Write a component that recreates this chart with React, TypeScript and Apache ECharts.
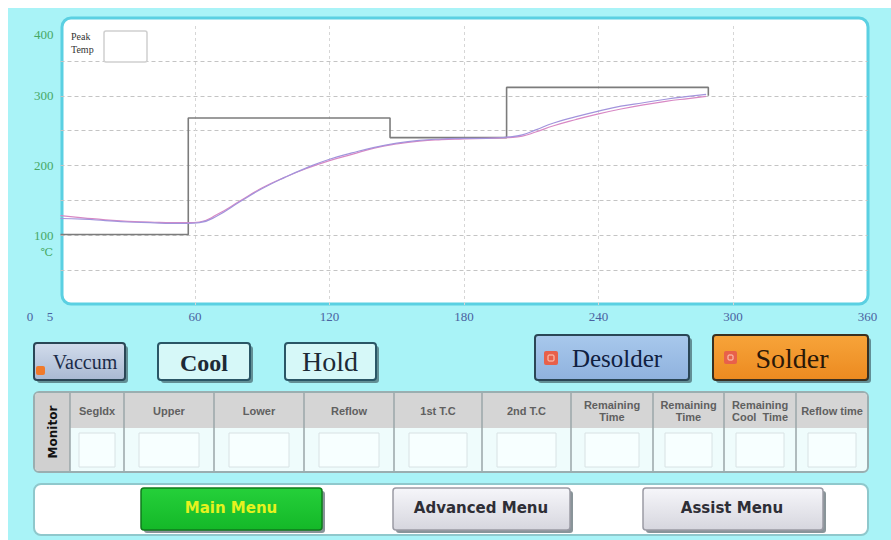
import React, { useEffect, useRef } from "react";
import * as echarts from "echarts";

// ---- data ----
const timeSec = [0, 10, 20, 30, 40, 50, 57, 62, 70, 80, 90, 100, 110, 120, 130, 140, 150, 160, 170, 180, 190, 200, 206, 212, 220, 230, 240, 250, 260, 270, 280, 288];
const tc1Temp = [128, 125, 122, 120, 119, 118, 118, 119, 130, 149, 168, 183, 196, 207, 216, 225, 231, 235, 237, 238, 239, 240, 242, 248, 257, 266, 274, 281, 287, 292, 296, 299];
const tc2Temp = [124, 123, 121, 119, 118, 117, 117, 118, 128, 148, 167, 183, 197, 209, 218, 226, 232, 236, 238, 239, 239, 241, 244, 251, 261, 270, 278, 285, 290, 295, 299, 302];
const setTime = [0, 57, 147, 199, 289];
const setTemp = [101, 268, 240, 312, 300];
const yTickLabels = [100, 200, 300, 400];
const xTickLabels = [60, 120, 180, 240, 300, 360];
const extraXLabels = ["0", "5"];
const headerLabels = ["SegIdx", "Upper", "Lower", "Reflow", "1st T.C", "2nd T.C", "Remaining\nTime", "Remaining\nTime", "Remaining\nCool  Time", "Reflow time"];

const SERIF = "'Liberation Serif', 'DejaVu Serif', serif";
const SANS = "'DejaVu Sans', sans-serif";
const NARROW = "'Liberation Sans Narrow', 'Liberation Sans', sans-serif";

function button(x: number, y: number, w: number, h: number, fill: any, stroke: string, lw = 2, r = 3) {
  return [
    { type: "rect", shape: { x: x + 3, y: y + 3, width: w, height: h, r }, style: { fill: "rgba(40,60,70,0.55)" } },
    { type: "rect", shape: { x, y, width: w, height: h, r }, style: { fill, stroke, lineWidth: lw } },
  ];
}

function grad(top: string, bottom: string) {
  return new echarts.graphic.LinearGradient(0, 0, 0, 1, [
    { offset: 0, color: top },
    { offset: 1, color: bottom },
  ]);
}

export default function App() {
  const ref = useRef<HTMLDivElement>(null);
  useEffect(() => {
    if (!ref.current) return;
    const chart = echarts.init(ref.current, undefined, { renderer: "svg" });

    const els: any[] = [];
    // plot frame
    els.push({ type: "rect", z: -10, shape: { x: 54, y: 10, width: 806, height: 286, r: 9 }, style: { fill: "#ffffff", stroke: "#5bd0e2", lineWidth: 3 } });
    // peak temp
    els.push({ type: "text", z: 5, style: { x: 63, y: 22, text: "Peak\nTemp", font: `10px ${SERIF}`, fill: "#333", lineHeight: 13 } });
    els.push({ type: "rect", z: 5, shape: { x: 96, y: 23, width: 43, height: 31, r: 2 }, style: { fill: "#fff", stroke: "#cfcfcf", lineWidth: 1.5 } });
    // extra axis labels
    els.push({ type: "text", style: { x: 22, y: 308, text: extraXLabels[0], font: `13px ${SERIF}`, fill: "#4a62a0", align: "center", verticalAlign: "middle" } });
    els.push({ type: "text", style: { x: 42, y: 308, text: extraXLabels[1], font: `13px ${SERIF}`, fill: "#4a62a0", align: "center", verticalAlign: "middle" } });
    els.push({ type: "text", style: { x: 39, y: 244, text: "℃", font: `11px ${SERIF}`, fill: "#47a865", align: "center", verticalAlign: "middle" } });

    // mode buttons
    els.push(...button(26, 335, 91, 37, grad("#d2dcec", "#a9b9d2"), "#2a4656"));
    els.push({ type: "rect", shape: { x: 28, y: 358, width: 9, height: 9, r: 2 }, style: { fill: "#f07a2a" } });
    els.push({ type: "text", style: { x: 77, y: 354, text: "Vaccum", font: `20px ${SERIF}`, fill: "#1a2a48", align: "center", verticalAlign: "middle" } });

    els.push(...button(150, 335, 92, 37, "#d6f8f8", "#2a5666"));
    els.push({ type: "text", style: { x: 196, y: 355, text: "Cool", font: `bold 24px ${SERIF}`, fill: "#1c2a36", align: "center", verticalAlign: "middle" } });

    els.push(...button(277, 335, 91, 37, "#d6f8f8", "#2a5666"));
    els.push({ type: "text", style: { x: 322, y: 353, text: "Hold", font: `28px ${SERIF}`, fill: "#1c2a36", align: "center", verticalAlign: "middle" } });

    els.push(...button(527, 327, 154, 45, grad("#a8c8ec", "#8fb2de"), "#2a4656"));
    els.push({ type: "rect", shape: { x: 536, y: 343, width: 14, height: 14, r: 2 }, style: { fill: "#e8604a" } });
    els.push({ type: "rect", shape: { x: 540, y: 347, width: 6, height: 6, r: 1 }, style: { fill: "none", stroke: "#ffd0c0", lineWidth: 1 } });
    els.push({ type: "text", style: { x: 609, y: 350, text: "Desolder", font: `25px ${SERIF}`, fill: "#102040", align: "center", verticalAlign: "middle" } });

    els.push(...button(705, 327, 155, 45, grad("#f7a43a", "#ec8a20"), "#3a3020"));
    els.push({ type: "rect", shape: { x: 716, y: 343, width: 13, height: 13, r: 2 }, style: { fill: "#e8604a" } });
    els.push({ type: "rect", shape: { x: 720, y: 347, width: 5, height: 5, r: 1 }, style: { fill: "none", stroke: "#ffd0c0", lineWidth: 1 } });
    els.push({ type: "text", style: { x: 784, y: 350, text: "Solder", font: `28px ${SERIF}`, fill: "#2a1808", align: "center", verticalAlign: "middle" } });

    // monitor table
    const cols = [26, 62, 116, 206, 296, 386, 474, 563, 645, 716, 788, 860];
    const tTop = 384, hdrH = 36, tBot = 464;
    els.push({ type: "rect", shape: { x: 26, y: tTop, width: 834, height: tBot - tTop, r: 5 }, style: { fill: "#effcfc", stroke: "#9aaeb0", lineWidth: 2 } });
    els.push({ type: "rect", shape: { x: 27, y: tTop + 1, width: 832, height: hdrH - 1, r: [4, 4, 0, 0] }, style: { fill: "#d5d5d5" } });
    els.push({ type: "rect", shape: { x: 27, y: tTop + 1, width: 35, height: tBot - tTop - 2, r: [4, 0, 0, 4] }, style: { fill: "#d0d0d0" } });
    els.push({ type: "text", rotation: Math.PI / 2, x: 45, y: 424, style: { x: 0, y: 0, text: "Monitor", font: `bold 12px ${SANS}`, fill: "#111", align: "center", verticalAlign: "middle" } });
    for (let i = 1; i < cols.length - 1; i++) {
      els.push({ type: "line", shape: { x1: cols[i], y1: tTop + 1, x2: cols[i], y2: tBot - 1 }, style: { stroke: "#9aa6a8", lineWidth: 1.5 } });
    }
    for (let i = 1; i < cols.length - 1; i++) {
      const x0 = cols[i], x1 = cols[i + 1], w = x1 - x0;
      els.push({ type: "text", style: { x: (x0 + x1) / 2, y: tTop + hdrH / 2 + 1, text: headerLabels[i - 1], font: `bold 11px ${NARROW}`, fill: "#606060", align: "center", verticalAlign: "middle", lineHeight: 12 } });
      const inset = Math.max(8, Math.round(w * 0.17));
      els.push({ type: "rect", shape: { x: x0 + inset, y: tTop + hdrH + 5, width: w - inset * 2, height: tBot - tTop - hdrH - 10 }, style: { fill: "#f7ffff", stroke: "#d8e2e4", lineWidth: 1 } });
    }

    // bottom menu panel
    els.push({ type: "rect", shape: { x: 26, y: 476, width: 834, height: 51, r: 7 }, style: { fill: "#ffffff", stroke: "#8fc8cc", lineWidth: 2 } });
    els.push(...button(133, 480, 181, 42, grad("#25d03a", "#14b828"), "#0f7a1c", 1.5, 3));
    els.push({ type: "text", style: { x: 223, y: 500, text: "Main Menu", font: `bold 15px ${SANS}`, fill: "#e6f21e", align: "center", verticalAlign: "middle" } });
    els.push(...button(385, 480, 177, 42, grad("#f6f6fa", "#d6d6de"), "#9a9aa4", 1.5, 3));
    els.push({ type: "text", style: { x: 473, y: 500, text: "Advanced Menu", font: `bold 15px ${SANS}`, fill: "#2e2e36", align: "center", verticalAlign: "middle" } });
    els.push(...button(635, 480, 180, 42, grad("#f6f6fa", "#d6d6de"), "#9a9aa4", 1.5, 3));
    els.push({ type: "text", style: { x: 724, y: 500, text: "Assist Menu", font: `bold 15px ${SANS}`, fill: "#2e2e36", align: "center", verticalAlign: "middle" } });

    const ySplitColors = [0, 50, 100, 150, 200, 250, 300, 350, 400].map((v) => (v === 0 || v === 400 ? "rgba(0,0,0,0)" : "#c4c4c4"));
    const xSplitColors = [0, 60, 120, 180, 240, 300, 360].map((v) => (v === 0 || v === 360 ? "rgba(0,0,0,0)" : "#d6d6d6"));

    chart.setOption({
      animation: false,
      backgroundColor: "#a9f3f7",
      grid: { left: 52.5, right: 23.5, top: 18, bottom: 235 },
      graphic: { elements: els },
      xAxis: {
        type: "value",
        min: 0,
        max: 360,
        interval: 60,
        axisLine: { show: false },
        axisTick: { show: false },
        axisLabel: {
          margin: 5,
          color: "#4a62a0",
          fontFamily: SERIF,
          fontSize: 13,
          formatter: (v: number) => (xTickLabels.includes(v) ? String(v) : ""),
        },
        splitLine: { show: true, lineStyle: { type: [3, 3], color: xSplitColors, width: 1 } },
      },
      yAxis: {
        type: "value",
        min: 0,
        max: 400,
        interval: 50,
        axisLine: { show: false },
        axisTick: { show: false },
        axisLabel: {
          margin: 7,
          color: "#47a865",
          fontFamily: SERIF,
          fontSize: 13,
          formatter: (v: number) => (v === 400 ? "{low|400}" : yTickLabels.includes(v) ? String(v) : ""),
          rich: { low: { padding: [16, 0, 0, 0], color: "#47a865", fontFamily: SERIF, fontSize: 13 } },
        },
        splitLine: { show: true, lineStyle: { type: [4, 3], color: ySplitColors, width: 1 } },
      },
      series: [
        {
          name: "Set",
          type: "line",
          step: "end",
          symbol: "none",
          data: setTime.map((t, i) => [t, setTemp[i]]),
          lineStyle: { color: "#7c7c7c", width: 1.6 },
          z: 3,
        },
        {
          name: "TC1",
          type: "line",
          smooth: true,
          symbol: "none",
          data: timeSec.map((t, i) => [t, tc1Temp[i]]),
          lineStyle: { color: "#d888c4", width: 1.2 },
          z: 4,
        },
        {
          name: "TC2",
          type: "line",
          smooth: true,
          symbol: "none",
          data: timeSec.map((t, i) => [t, tc2Temp[i]]),
          lineStyle: { color: "#a294dc", width: 1.2 },
          z: 4,
        },
      ],
    });
    return () => chart.dispose();
  }, []);
  return <div ref={ref} style={{ position: "absolute", left: 8, top: 8, width: 883, height: 532 }} />;
}
